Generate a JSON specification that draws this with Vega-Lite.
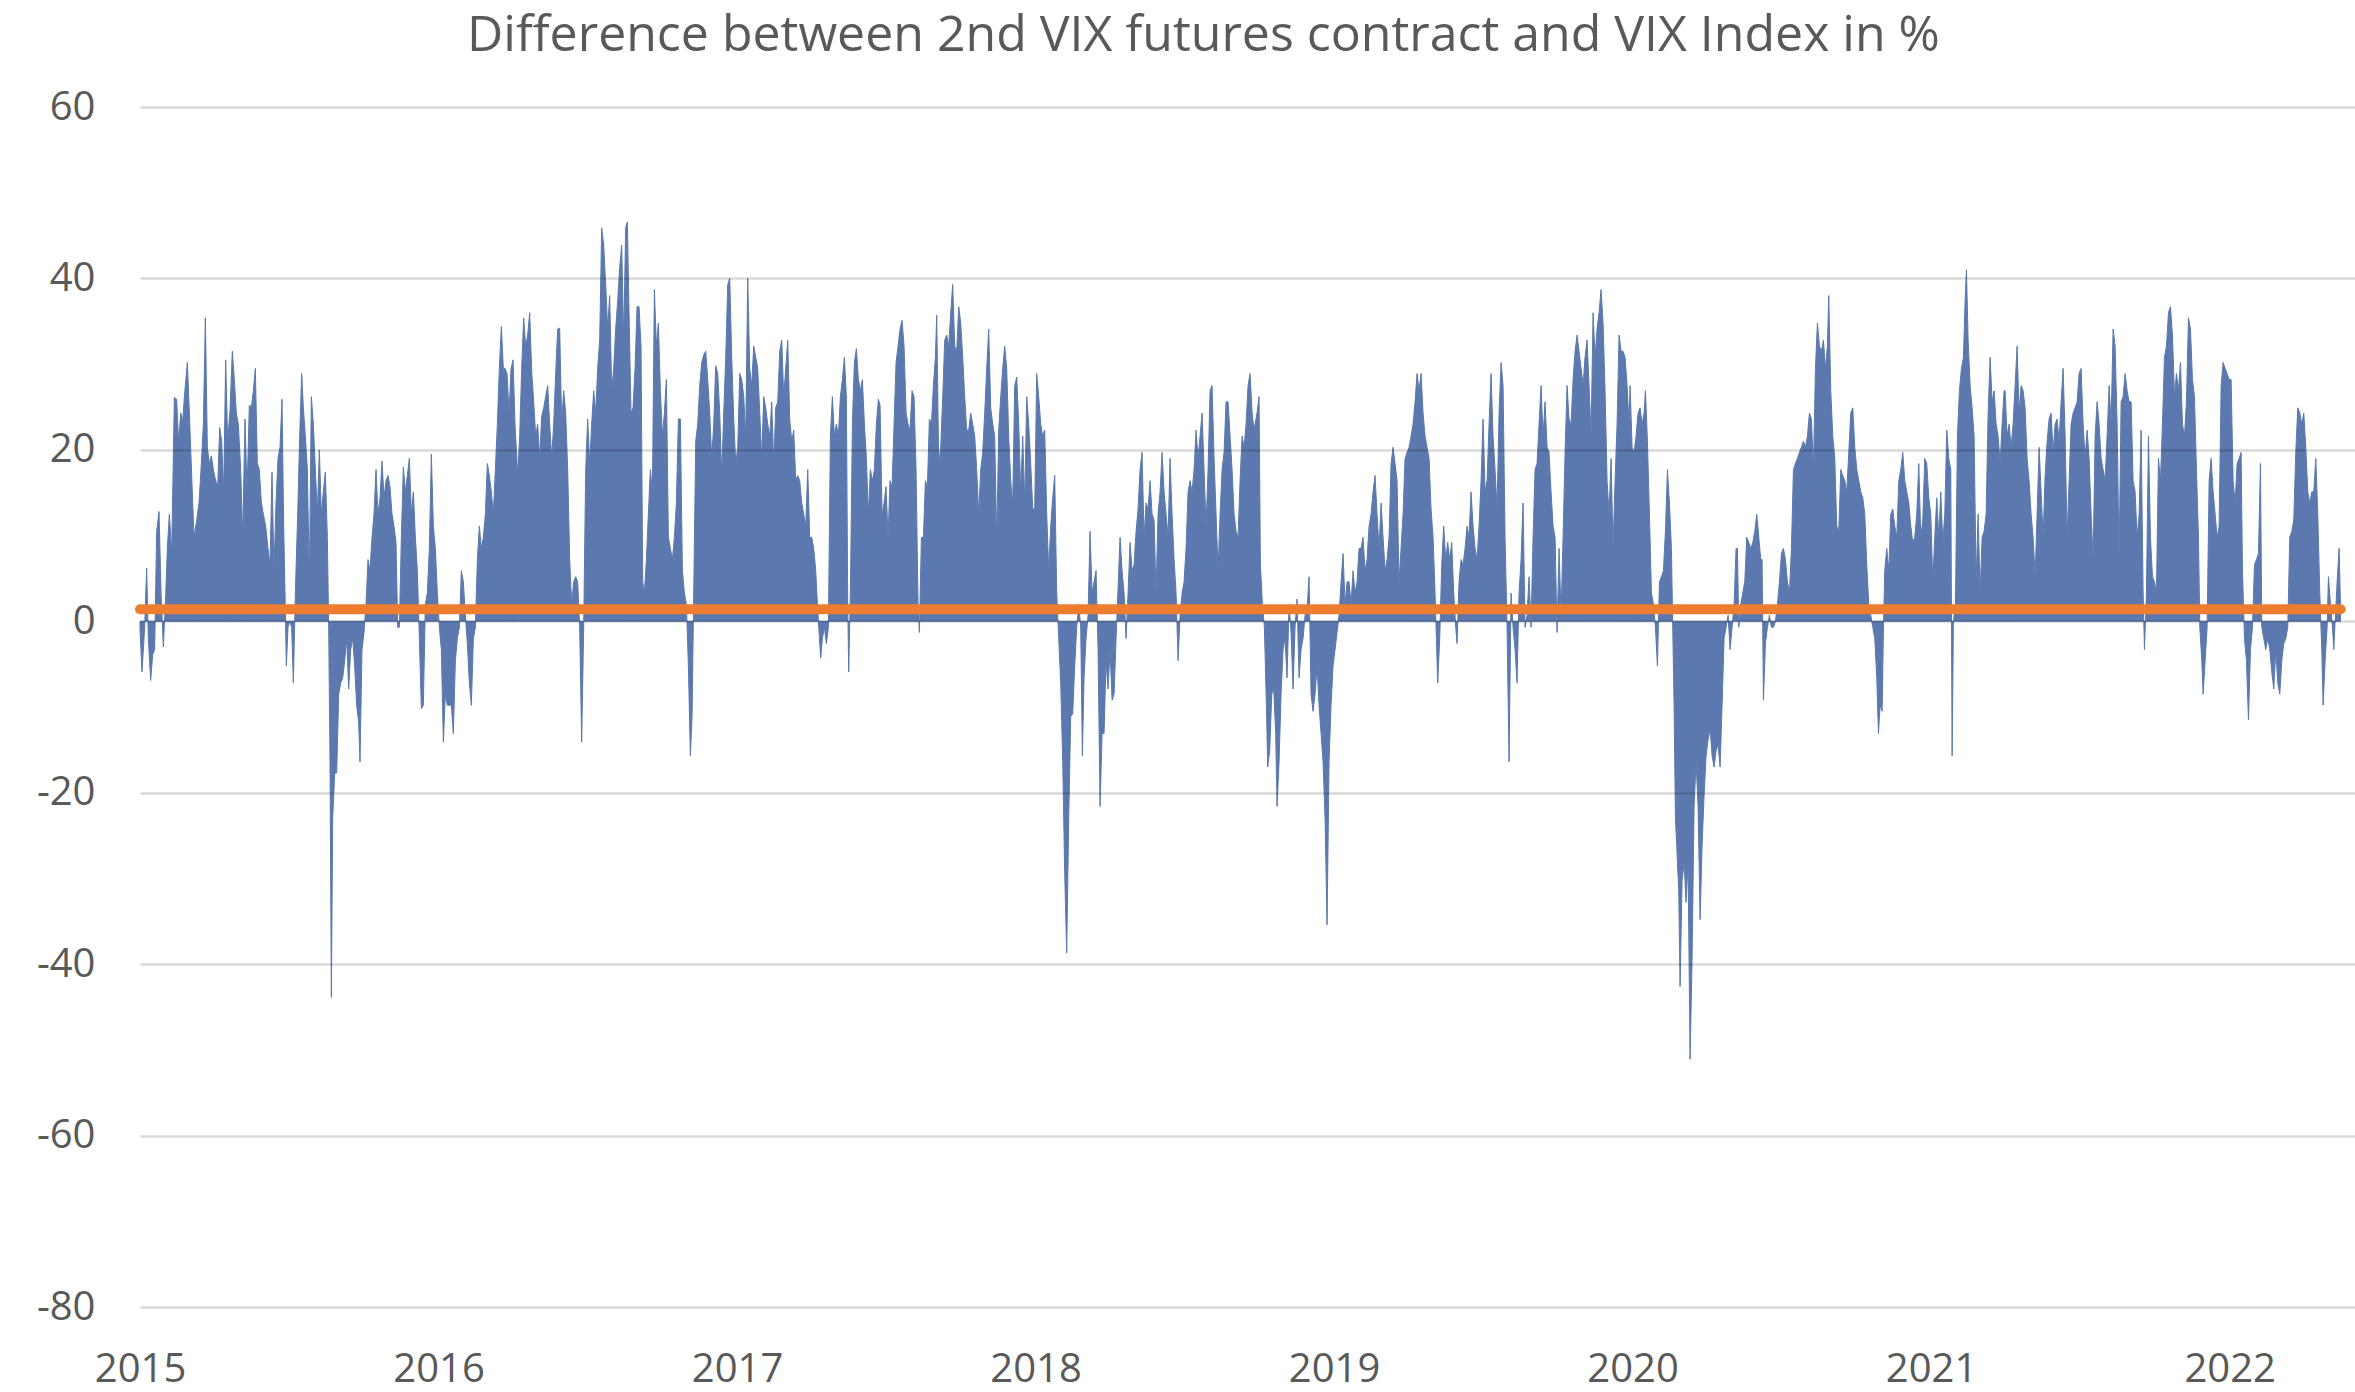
{
"$schema": "https://vega.github.io/schema/vega-lite/v6.json",
"width": 2215,
"height": 1200,
"autosize": {"type": "none"},
"padding": {"left": 140, "top": 107, "right": 0, "bottom": 85},
"background": "#ffffff",
"title": {"text": "Difference between 2nd VIX futures contract and VIX Index in %", "font": "Open Sans", "fontSize": 50, "fontWeight": "normal", "color": "#595959", "anchor": "middle", "frame": "group", "offset": -14, "baseline": "alphabetic", "dx": -44},
"config": {"view": {"stroke": null}, "axis": {"labelFont": "Open Sans", "labelColor": "#595959", "labelFontSize": 40, "domain": false, "ticks": false, "title": null}},
"datasets": {
"ref": [{"t": 2015.0, "v": 1.4}, {"t": 2022.372, "v": 1.4}],
"diff": [
{"t":2015.0000,"v":-1},{"t":2015.0067,"v":-5.9},{"t":2015.0156,"v":-0.7},{"t":2015.0223,"v":6.2},{"t":2015.0279,"v":-2},{"t":2015.0357,"v":-6.9},{"t":2015.0424,"v":-3.9},{"t":2015.0491,"v":-3.3},{"t":2015.0558,"v":10.5},{"t":2015.0637,"v":12.8},{"t":2015.0704,"v":3.3},{"t":2015.0782,"v":-3},{"t":2015.0860,"v":3},{"t":2015.0916,"v":8.5},{"t":2015.0983,"v":12.5},{"t":2015.1061,"v":7.9},{"t":2015.1150,"v":26.1},{"t":2015.1228,"v":25.9},{"t":2015.1295,"v":20.7},{"t":2015.1362,"v":24.3},{"t":2015.1429,"v":23.3},{"t":2015.1496,"v":26.6},{"t":2015.1586,"v":30.2},{"t":2015.1653,"v":24.3},{"t":2015.1731,"v":17},{"t":2015.1809,"v":9.8},{"t":2015.1898,"v":11.8},{"t":2015.1977,"v":13.8},{"t":2015.2055,"v":18.4},{"t":2015.2122,"v":23},{"t":2015.2189,"v":35.4},{"t":2015.2256,"v":20.3},{"t":2015.2323,"v":18.4},{"t":2015.2390,"v":19.3},{"t":2015.2457,"v":17.7},{"t":2015.2535,"v":16.4},{"t":2015.2602,"v":15.7},{"t":2015.2669,"v":22.6},{"t":2015.2736,"v":21},{"t":2015.2803,"v":15.1},{"t":2015.2870,"v":30.5},{"t":2015.2937,"v":21},{"t":2015.3015,"v":24.6},{"t":2015.3093,"v":31.5},{"t":2015.3160,"v":28.2},{"t":2015.3227,"v":24.3},{"t":2015.3294,"v":23},{"t":2015.3373,"v":17.7},{"t":2015.3440,"v":9.8},{"t":2015.3518,"v":23.6},{"t":2015.3585,"v":15.1},{"t":2015.3663,"v":25.2},{"t":2015.3730,"v":24.9},{"t":2015.3797,"v":26.9},{"t":2015.3864,"v":29.5},{"t":2015.3931,"v":18.4},{"t":2015.3998,"v":17.7},{"t":2015.4065,"v":13.8},{"t":2015.4132,"v":12.5},{"t":2015.4210,"v":11.1},{"t":2015.4288,"v":8.5},{"t":2015.4355,"v":6.6},{"t":2015.4422,"v":17.4},{"t":2015.4489,"v":5.9},{"t":2015.4556,"v":13.8},{"t":2015.4623,"v":19},{"t":2015.4690,"v":20.3},{"t":2015.4757,"v":25.9},{"t":2015.4813,"v":11.1},{"t":2015.4858,"v":3.3},{"t":2015.4902,"v":-5.2},{"t":2015.4958,"v":-0.7},{"t":2015.5014,"v":0},{"t":2015.5081,"v":-0.7},{"t":2015.5137,"v":-7.2},{"t":2015.5204,"v":3.3},{"t":2015.5282,"v":12.5},{"t":2015.5349,"v":21.6},{"t":2015.5416,"v":28.9},{"t":2015.5472,"v":24.9},{"t":2015.5539,"v":21.6},{"t":2015.5606,"v":17.7},{"t":2015.5673,"v":4.6},{"t":2015.5740,"v":26.2},{"t":2015.5807,"v":23},{"t":2015.5874,"v":17.7},{"t":2015.5941,"v":12.5},{"t":2015.6008,"v":20},{"t":2015.6075,"v":12.5},{"t":2015.6142,"v":15.1},{"t":2015.6209,"v":17.4},{"t":2015.6276,"v":9.8},{"t":2015.6321,"v":-0.7},{"t":2015.6365,"v":-16.4},{"t":2015.6410,"v":-43.9},{"t":2015.6455,"v":-23},{"t":2015.6522,"v":-17.7},{"t":2015.6589,"v":-17.7},{"t":2015.6656,"v":-8.5},{"t":2015.6723,"v":-7.2},{"t":2015.6790,"v":-6.6},{"t":2015.6857,"v":-4.6},{"t":2015.6924,"v":-2},{"t":2015.6991,"v":-7.9},{"t":2015.7058,"v":-3.3},{"t":2015.7125,"v":-2},{"t":2015.7191,"v":-5.2},{"t":2015.7258,"v":-9.8},{"t":2015.7325,"v":-11.8},{"t":2015.7370,"v":-16.4},{"t":2015.7437,"v":-3.3},{"t":2015.7504,"v":-1.3},{"t":2015.7571,"v":2},{"t":2015.7638,"v":7.2},{"t":2015.7705,"v":5.9},{"t":2015.7772,"v":9.8},{"t":2015.7839,"v":12.5},{"t":2015.7906,"v":17.7},{"t":2015.7973,"v":12.5},{"t":2015.8040,"v":14.4},{"t":2015.8107,"v":18.7},{"t":2015.8174,"v":14.4},{"t":2015.8241,"v":16.4},{"t":2015.8308,"v":17},{"t":2015.8375,"v":15.7},{"t":2015.8442,"v":12.5},{"t":2015.8509,"v":11.1},{"t":2015.8576,"v":9.2},{"t":2015.8632,"v":-0.7},{"t":2015.8688,"v":-0.7},{"t":2015.8755,"v":9.8},{"t":2015.8822,"v":18},{"t":2015.8889,"v":15.1},{"t":2015.8956,"v":17},{"t":2015.9023,"v":19},{"t":2015.9090,"v":12.5},{"t":2015.9157,"v":15.1},{"t":2015.9224,"v":9.8},{"t":2015.9291,"v":5.9},{"t":2015.9358,"v":-2},{"t":2015.9425,"v":-10.2},{"t":2015.9492,"v":-9.8},{"t":2015.9559,"v":2},{"t":2015.9626,"v":3.3},{"t":2015.9693,"v":8.5},{"t":2015.9760,"v":19.5},{"t":2015.9827,"v":11.1},{"t":2015.9894,"v":8.5},{"t":2015.9961,"v":3.3},{"t":2016.0028,"v":-0.7},{"t":2016.0095,"v":-3.3},{"t":2016.0162,"v":-14.1},{"t":2016.0229,"v":-8.5},{"t":2016.0296,"v":-9.8},{"t":2016.0363,"v":-9.8},{"t":2016.0430,"v":-9.8},{"t":2016.0497,"v":-13.1},{"t":2016.0564,"v":-4.6},{"t":2016.0631,"v":-2},{"t":2016.0698,"v":-0.7},{"t":2016.0765,"v":5.9},{"t":2016.0832,"v":4.6},{"t":2016.0899,"v":0.7},{"t":2016.0966,"v":-2.6},{"t":2016.1033,"v":-7.2},{"t":2016.1100,"v":-9.8},{"t":2016.1167,"v":-2},{"t":2016.1234,"v":-0.7},{"t":2016.1301,"v":7.2},{"t":2016.1368,"v":11.1},{"t":2016.1435,"v":8.5},{"t":2016.1502,"v":9.8},{"t":2016.1569,"v":12.5},{"t":2016.1636,"v":18.4},{"t":2016.1703,"v":17},{"t":2016.1770,"v":15.1},{"t":2016.1837,"v":12.5},{"t":2016.1904,"v":17.7},{"t":2016.1971,"v":23},{"t":2016.2038,"v":29.5},{"t":2016.2105,"v":34.4},{"t":2016.2172,"v":29.5},
{"t":2016.2228,"v":29.5},{"t":2016.2295,"v":28.9},{"t":2016.2362,"v":24.3},{"t":2016.2429,"v":29.5},{"t":2016.2496,"v":30.5},{"t":2016.2563,"v":23},{"t":2016.2652,"v":17},{"t":2016.2719,"v":21.6},{"t":2016.2786,"v":29.5},{"t":2016.2853,"v":35.4},{"t":2016.2920,"v":32.1},{"t":2016.2987,"v":33.4},{"t":2016.3054,"v":36},{"t":2016.3121,"v":29.2},{"t":2016.3188,"v":25.6},{"t":2016.3255,"v":21.6},{"t":2016.3322,"v":23},{"t":2016.3389,"v":19},{"t":2016.3456,"v":23.9},{"t":2016.3523,"v":24.9},{"t":2016.3590,"v":26.2},{"t":2016.3657,"v":27.5},{"t":2016.3724,"v":23},{"t":2016.3791,"v":19},{"t":2016.3858,"v":23},{"t":2016.3925,"v":28.9},{"t":2016.3992,"v":34.1},{"t":2016.4059,"v":34.2},{"t":2016.4126,"v":23},{"t":2016.4193,"v":26.9},{"t":2016.4260,"v":24.3},{"t":2016.4327,"v":17.7},{"t":2016.4394,"v":7.2},{"t":2016.4461,"v":2},{"t":2016.4528,"v":4.6},{"t":2016.4595,"v":5.2},{"t":2016.4662,"v":4.6},{"t":2016.4729,"v":-0.7},{"t":2016.4796,"v":-14.1},{"t":2016.4863,"v":-0.7},{"t":2016.4930,"v":17.7},{"t":2016.4997,"v":23.6},{"t":2016.5064,"v":18.4},{"t":2016.5131,"v":23},{"t":2016.5198,"v":26.9},{"t":2016.5265,"v":24.3},{"t":2016.5332,"v":29.5},{"t":2016.5399,"v":32.8},{"t":2016.5466,"v":45.9},{"t":2016.5533,"v":43.9},{"t":2016.5600,"v":39.3},{"t":2016.5667,"v":34.1},{"t":2016.5734,"v":38},{"t":2016.5801,"v":26.9},{"t":2016.5868,"v":29.5},{"t":2016.5935,"v":34.1},{"t":2016.6002,"v":37.4},{"t":2016.6069,"v":41.3},{"t":2016.6136,"v":43.9},{"t":2016.6203,"v":32.8},{"t":2016.6270,"v":45.9},{"t":2016.6326,"v":46.6},{"t":2016.6382,"v":36},{"t":2016.6449,"v":24.3},{"t":2016.6516,"v":24.9},{"t":2016.6583,"v":29.5},{"t":2016.6650,"v":36.7},{"t":2016.6717,"v":36.7},{"t":2016.6784,"v":32.1},{"t":2016.6840,"v":4.6},{"t":2016.6896,"v":3.3},{"t":2016.6963,"v":7.2},{"t":2016.7030,"v":12.5},{"t":2016.7097,"v":17.7},{"t":2016.7164,"v":15.1},{"t":2016.7231,"v":38.7},{"t":2016.7298,"v":32.1},{"t":2016.7365,"v":34.8},{"t":2016.7432,"v":26.9},{"t":2016.7499,"v":21.6},{"t":2016.7566,"v":24.3},{"t":2016.7633,"v":28.2},{"t":2016.7700,"v":9.8},{"t":2016.7767,"v":8.5},{"t":2016.7834,"v":7.2},{"t":2016.7901,"v":9.8},{"t":2016.7968,"v":13.8},{"t":2016.8035,"v":23.6},{"t":2016.8102,"v":23.6},{"t":2016.8169,"v":5.9},{"t":2016.8236,"v":3.3},{"t":2016.8303,"v":2},{"t":2016.8370,"v":-5.2},{"t":2016.8437,"v":-15.7},{"t":2016.8493,"v":-11.1},{"t":2016.8549,"v":3.3},{"t":2016.8616,"v":21},{"t":2016.8683,"v":23},{"t":2016.8750,"v":27.5},{"t":2016.8817,"v":30.2},{"t":2016.8884,"v":31.1},{"t":2016.8951,"v":31.5},{"t":2016.9018,"v":28.2},{"t":2016.9085,"v":24.3},{"t":2016.9152,"v":19},{"t":2016.9219,"v":23},{"t":2016.9286,"v":29.8},{"t":2016.9353,"v":28.9},{"t":2016.9420,"v":24.3},{"t":2016.9487,"v":17},{"t":2016.9554,"v":24.3},{"t":2016.9621,"v":30.8},{"t":2016.9688,"v":39.3},{"t":2016.9755,"v":40},{"t":2016.9822,"v":30.8},{"t":2016.9889,"v":23.6},{"t":2016.9956,"v":18.4},{"t":2017.0023,"v":20.3},{"t":2017.0090,"v":28.9},{"t":2017.0157,"v":28.2},{"t":2017.0224,"v":26.2},{"t":2017.0291,"v":21.6},{"t":2017.0358,"v":40},{"t":2017.0425,"v":29.5},{"t":2017.0492,"v":27.5},{"t":2017.0559,"v":32.1},{"t":2017.0626,"v":30.8},{"t":2017.0693,"v":29.5},{"t":2017.0760,"v":24.3},{"t":2017.0827,"v":19},{"t":2017.0894,"v":26.2},{"t":2017.0961,"v":24.9},{"t":2017.1028,"v":23},{"t":2017.1095,"v":21.6},{"t":2017.1162,"v":25.6},{"t":2017.1229,"v":18.4},{"t":2017.1296,"v":24.9},{"t":2017.1363,"v":25.6},{"t":2017.1430,"v":31.5},{"t":2017.1497,"v":32.8},{"t":2017.1564,"v":26.2},{"t":2017.1631,"v":29.5},{"t":2017.1698,"v":32.8},{"t":2017.1765,"v":23.6},{"t":2017.1832,"v":21},{"t":2017.1899,"v":22.3},{"t":2017.1966,"v":16.4},{"t":2017.2033,"v":17},{"t":2017.2100,"v":16.4},{"t":2017.2167,"v":13.8},{"t":2017.2234,"v":12.5},{"t":2017.2301,"v":11.1},{"t":2017.2368,"v":17.7},{"t":2017.2435,"v":9.8},{"t":2017.2502,"v":9.8},{"t":2017.2569,"v":8.5},{"t":2017.2636,"v":5.9},{"t":2017.2692,"v":2},{"t":2017.2748,"v":-1.3},{"t":2017.2803,"v":-4.3},{"t":2017.2859,"v":-2},{"t":2017.2926,"v":-0.7},{"t":2017.2993,"v":-2.6},{"t":2017.3060,"v":-0.7},{"t":2017.3127,"v":21.6},{"t":2017.3194,"v":26.2},{"t":2017.3261,"v":21.6},{"t":2017.3328,"v":23},{"t":2017.3395,"v":21.6},{"t":2017.3462,"v":26.2},{"t":2017.3529,"v":28.2},{"t":2017.3596,"v":30.8},{"t":2017.3663,"v":26.2},{"t":2017.3708,"v":2},{"t":2017.3741,"v":-5.9},{"t":2017.3797,"v":3.3},{"t":2017.3864,"v":23},{"t":2017.3931,"v":30.2},{"t":2017.3998,"v":31.8},{"t":2017.4065,"v":28.2},{"t":2017.4132,"v":26.9},{"t":2017.4199,"v":28.2},{"t":2017.4266,"v":23},{"t":2017.4333,"v":19},{"t":2017.4400,"v":12.5},{"t":2017.4467,"v":17.7},{"t":2017.4534,"v":16.4},{"t":2017.4601,"v":17.7},{"t":2017.4668,"v":23},{"t":2017.4735,"v":25.9},
{"t":2017.4791,"v":25.2},{"t":2017.4858,"v":12.5},{"t":2017.4925,"v":13.8},{"t":2017.4992,"v":15.7},{"t":2017.5059,"v":9.8},{"t":2017.5126,"v":16.4},{"t":2017.5193,"v":15.7},{"t":2017.5260,"v":23},{"t":2017.5327,"v":30.2},{"t":2017.5394,"v":32.1},{"t":2017.5461,"v":34.1},{"t":2017.5528,"v":35.1},{"t":2017.5595,"v":32.1},{"t":2017.5662,"v":24.3},{"t":2017.5729,"v":23},{"t":2017.5796,"v":22.3},{"t":2017.5863,"v":26.9},{"t":2017.5930,"v":26.2},{"t":2017.5997,"v":17.7},{"t":2017.6064,"v":2},{"t":2017.6109,"v":-1.3},{"t":2017.6176,"v":9.8},{"t":2017.6243,"v":9.8},{"t":2017.6310,"v":16.4},{"t":2017.6377,"v":15.7},{"t":2017.6444,"v":23.6},{"t":2017.6511,"v":23},{"t":2017.6578,"v":27.5},{"t":2017.6645,"v":30.8},{"t":2017.6689,"v":35.7},{"t":2017.6756,"v":18.4},{"t":2017.6823,"v":20.3},{"t":2017.6890,"v":26.2},{"t":2017.6957,"v":32.8},{"t":2017.7024,"v":33.4},{"t":2017.7091,"v":32.1},{"t":2017.7158,"v":36},{"t":2017.7225,"v":39.3},{"t":2017.7292,"v":32.1},{"t":2017.7359,"v":31.5},{"t":2017.7426,"v":36.7},{"t":2017.7493,"v":34.8},{"t":2017.7560,"v":30.8},{"t":2017.7627,"v":26.2},{"t":2017.7694,"v":22.3},{"t":2017.7761,"v":22.3},{"t":2017.7828,"v":24.3},{"t":2017.7895,"v":23},{"t":2017.7962,"v":21.6},{"t":2017.8029,"v":17.7},{"t":2017.8096,"v":12.5},{"t":2017.8163,"v":17.7},{"t":2017.8230,"v":19.7},{"t":2017.8297,"v":24.3},{"t":2017.8364,"v":29.5},{"t":2017.8431,"v":34.1},{"t":2017.8498,"v":24.9},{"t":2017.8565,"v":23},{"t":2017.8632,"v":21.6},{"t":2017.8699,"v":9.2},{"t":2017.8766,"v":22.3},{"t":2017.8833,"v":26.2},{"t":2017.8900,"v":29.5},{"t":2017.8967,"v":32.1},{"t":2017.9034,"v":29.5},{"t":2017.9101,"v":21.6},{"t":2017.9168,"v":16.4},{"t":2017.9235,"v":13.8},{"t":2017.9302,"v":27.5},{"t":2017.9369,"v":28.5},{"t":2017.9436,"v":23},{"t":2017.9503,"v":15.1},{"t":2017.9570,"v":21.6},{"t":2017.9637,"v":13.8},{"t":2017.9704,"v":26.2},{"t":2017.9771,"v":23},{"t":2017.9838,"v":18.4},{"t":2017.9905,"v":13.1},{"t":2017.9972,"v":13.1},{"t":2018.0039,"v":28.9},{"t":2018.0106,"v":26.2},{"t":2018.0173,"v":23},{"t":2018.0240,"v":21.6},{"t":2018.0307,"v":22.3},{"t":2018.0374,"v":12.5},{"t":2018.0441,"v":5.9},{"t":2018.0508,"v":11.1},{"t":2018.0575,"v":14.4},{"t":2018.0642,"v":17},{"t":2018.0709,"v":3.3},{"t":2018.0776,"v":-2},{"t":2018.0843,"v":-7.2},{"t":2018.0910,"v":-16.4},{"t":2018.0977,"v":-29.5},{"t":2018.1044,"v":-38.7},{"t":2018.1111,"v":-23},{"t":2018.1178,"v":-11.1},{"t":2018.1245,"v":-10.8},{"t":2018.1312,"v":-5.2},{"t":2018.1379,"v":-0.7},{"t":2018.1446,"v":2},{"t":2018.1513,"v":-0.7},{"t":2018.1569,"v":-15.7},{"t":2018.1625,"v":-6.6},{"t":2018.1692,"v":-2},{"t":2018.1759,"v":0.7},{"t":2018.1826,"v":10.5},{"t":2018.1893,"v":3.3},{"t":2018.1960,"v":4.6},{"t":2018.2027,"v":5.9},{"t":2018.2094,"v":-3.3},{"t":2018.2161,"v":-21.6},{"t":2018.2228,"v":-13.1},{"t":2018.2295,"v":-13.1},{"t":2018.2362,"v":-4.6},{"t":2018.2429,"v":-7.9},{"t":2018.2496,"v":-3.3},{"t":2018.2563,"v":-9.2},{"t":2018.2630,"v":-8.5},{"t":2018.2697,"v":-2},{"t":2018.2764,"v":3.9},{"t":2018.2831,"v":9.8},{"t":2018.2898,"v":5.9},{"t":2018.2965,"v":3.3},{"t":2018.3032,"v":-2},{"t":2018.3099,"v":3.3},{"t":2018.3166,"v":9.2},{"t":2018.3233,"v":5.9},{"t":2018.3300,"v":6.6},{"t":2018.3367,"v":10.5},{"t":2018.3434,"v":13.1},{"t":2018.3501,"v":17.7},{"t":2018.3568,"v":19.7},{"t":2018.3635,"v":9.8},{"t":2018.3702,"v":13.8},{"t":2018.3769,"v":13.1},{"t":2018.3836,"v":16.4},{"t":2018.3903,"v":12.5},{"t":2018.3970,"v":11.8},{"t":2018.4037,"v":3.3},{"t":2018.4104,"v":12.5},{"t":2018.4171,"v":15.1},{"t":2018.4238,"v":19.7},{"t":2018.4305,"v":15.1},{"t":2018.4372,"v":12.5},{"t":2018.4439,"v":9.8},{"t":2018.4506,"v":19},{"t":2018.4573,"v":12.5},{"t":2018.4640,"v":7.2},{"t":2018.4707,"v":3.3},{"t":2018.4774,"v":-4.6},{"t":2018.4841,"v":0.7},{"t":2018.4908,"v":3.3},{"t":2018.4975,"v":4.6},{"t":2018.5042,"v":8.5},{"t":2018.5109,"v":15.1},{"t":2018.5176,"v":16.4},{"t":2018.5243,"v":15.1},{"t":2018.5310,"v":17.7},{"t":2018.5377,"v":22.3},{"t":2018.5444,"v":19},{"t":2018.5511,"v":21.6},{"t":2018.5578,"v":24.3},{"t":2018.5645,"v":17.7},{"t":2018.5712,"v":11.1},{"t":2018.5779,"v":17.7},{"t":2018.5846,"v":26.9},{"t":2018.5913,"v":27.5},{"t":2018.5980,"v":19},{"t":2018.6047,"v":12.5},{"t":2018.6114,"v":5.9},{"t":2018.6181,"v":12.5},{"t":2018.6248,"v":17.7},{"t":2018.6315,"v":19.7},{"t":2018.6382,"v":25.6},{"t":2018.6449,"v":25.6},{"t":2018.6516,"v":21.6},{"t":2018.6583,"v":17.7},{"t":2018.6650,"v":12.5},{"t":2018.6717,"v":10.5},{"t":2018.6784,"v":9.8},{"t":2018.6851,"v":16.4},{"t":2018.6918,"v":21.6},{"t":2018.6985,"v":20.3},{"t":2018.7052,"v":23},{"t":2018.7119,"v":27.5},{"t":2018.7186,"v":28.9},{"t":2018.7253,"v":24.3},{"t":2018.7320,"v":22.3},
{"t":2018.7353,"v":23},{"t":2018.7420,"v":24.3},{"t":2018.7487,"v":26.2},{"t":2018.7532,"v":6.6},{"t":2018.7599,"v":2},{"t":2018.7666,"v":-0.7},{"t":2018.7733,"v":-9.8},{"t":2018.7777,"v":-17},{"t":2018.7844,"v":-15.1},{"t":2018.7911,"v":-8.5},{"t":2018.7978,"v":-7.9},{"t":2018.8045,"v":-13.1},{"t":2018.8090,"v":-21.6},{"t":2018.8157,"v":-16.4},{"t":2018.8224,"v":-8.5},{"t":2018.8291,"v":-3.3},{"t":2018.8358,"v":-2},{"t":2018.8425,"v":-6.6},{"t":2018.8492,"v":2},{"t":2018.8559,"v":-1.3},{"t":2018.8626,"v":-7.9},{"t":2018.8693,"v":-0.7},{"t":2018.8760,"v":2.6},{"t":2018.8827,"v":-6.6},{"t":2018.8894,"v":-3.3},{"t":2018.8961,"v":-2},{"t":2018.9028,"v":0.7},{"t":2018.9095,"v":1.3},{"t":2018.9162,"v":5.2},{"t":2018.9229,"v":-8.5},{"t":2018.9296,"v":-10.5},{"t":2018.9363,"v":-8.5},{"t":2018.9430,"v":-5.2},{"t":2018.9497,"v":-9.8},{"t":2018.9564,"v":-13.1},{"t":2018.9631,"v":-16.4},{"t":2018.9698,"v":-23},{"t":2018.9765,"v":-35.4},{"t":2018.9832,"v":-16.4},{"t":2018.9899,"v":-9.8},{"t":2018.9966,"v":-5.2},{"t":2019.0033,"v":-3.3},{"t":2019.0100,"v":-1.3},{"t":2019.0167,"v":0.7},{"t":2019.0234,"v":4.6},{"t":2019.0301,"v":7.9},{"t":2019.0368,"v":2},{"t":2019.0435,"v":4.6},{"t":2019.0502,"v":4.6},{"t":2019.0569,"v":2},{"t":2019.0636,"v":5.9},{"t":2019.0703,"v":3.3},{"t":2019.0770,"v":4.6},{"t":2019.0837,"v":8.5},{"t":2019.0904,"v":8.5},{"t":2019.0971,"v":9.8},{"t":2019.1038,"v":5.9},{"t":2019.1105,"v":7.2},{"t":2019.1172,"v":11.1},{"t":2019.1239,"v":12.5},{"t":2019.1306,"v":15.1},{"t":2019.1373,"v":17},{"t":2019.1440,"v":12.5},{"t":2019.1507,"v":8.5},{"t":2019.1574,"v":13.8},{"t":2019.1641,"v":9.8},{"t":2019.1708,"v":5.9},{"t":2019.1775,"v":7.2},{"t":2019.1842,"v":9.8},{"t":2019.1909,"v":18.4},{"t":2019.1976,"v":20.3},{"t":2019.2043,"v":18.4},{"t":2019.2110,"v":16.4},{"t":2019.2177,"v":4.6},{"t":2019.2244,"v":8.5},{"t":2019.2311,"v":12.5},{"t":2019.2378,"v":19},{"t":2019.2445,"v":19.7},{"t":2019.2512,"v":20.3},{"t":2019.2579,"v":21.6},{"t":2019.2646,"v":23},{"t":2019.2713,"v":25.6},{"t":2019.2780,"v":28.9},{"t":2019.2847,"v":26.9},{"t":2019.2914,"v":28.9},{"t":2019.2981,"v":24.3},{"t":2019.3048,"v":21.6},{"t":2019.3115,"v":20.3},{"t":2019.3182,"v":19},{"t":2019.3249,"v":13.1},{"t":2019.3316,"v":9.8},{"t":2019.3383,"v":3.3},{"t":2019.3428,"v":-2},{"t":2019.3472,"v":-7.2},{"t":2019.3539,"v":-2},{"t":2019.3606,"v":6.6},{"t":2019.3673,"v":11.1},{"t":2019.3740,"v":7.2},{"t":2019.3807,"v":9.2},{"t":2019.3874,"v":7.2},{"t":2019.3941,"v":9.2},{"t":2019.4008,"v":3.3},{"t":2019.4075,"v":-0.7},{"t":2019.4120,"v":-2.6},{"t":2019.4187,"v":4.6},{"t":2019.4254,"v":7.2},{"t":2019.4321,"v":6.6},{"t":2019.4388,"v":8.5},{"t":2019.4455,"v":11.1},{"t":2019.4522,"v":9.8},{"t":2019.4589,"v":15.1},{"t":2019.4656,"v":11.1},{"t":2019.4723,"v":8.5},{"t":2019.4790,"v":7.2},{"t":2019.4857,"v":11.1},{"t":2019.4924,"v":16.4},{"t":2019.4991,"v":23.6},{"t":2019.5058,"v":15.1},{"t":2019.5125,"v":16.4},{"t":2019.5192,"v":23},{"t":2019.5259,"v":28.9},{"t":2019.5326,"v":21.6},{"t":2019.5393,"v":17.7},{"t":2019.5460,"v":13.1},{"t":2019.5527,"v":24.3},{"t":2019.5594,"v":30.2},{"t":2019.5661,"v":27.5},{"t":2019.5728,"v":9.8},{"t":2019.5795,"v":-0.7},{"t":2019.5862,"v":-16.4},{"t":2019.5929,"v":3.3},{"t":2019.5996,"v":-0.7},{"t":2019.6063,"v":-3.3},{"t":2019.6130,"v":-7.2},{"t":2019.6197,"v":3.3},{"t":2019.6264,"v":7.2},{"t":2019.6331,"v":13.8},{"t":2019.6398,"v":-0.7},{"t":2019.6465,"v":0.7},{"t":2019.6532,"v":5.2},{"t":2019.6599,"v":-0.7},{"t":2019.6666,"v":9.8},{"t":2019.6733,"v":17.7},{"t":2019.6800,"v":18.4},{"t":2019.6867,"v":23},{"t":2019.6934,"v":27.5},{"t":2019.7001,"v":21.6},{"t":2019.7068,"v":25.6},{"t":2019.7135,"v":20.3},{"t":2019.7202,"v":19.7},{"t":2019.7269,"v":15.1},{"t":2019.7336,"v":11.1},{"t":2019.7403,"v":9.8},{"t":2019.7470,"v":-1.3},{"t":2019.7537,"v":8.5},{"t":2019.7604,"v":0.7},{"t":2019.7671,"v":9.8},{"t":2019.7738,"v":19.7},{"t":2019.7805,"v":27.5},{"t":2019.7872,"v":23.6},{"t":2019.7939,"v":23},{"t":2019.8006,"v":28.2},{"t":2019.8073,"v":31.5},{"t":2019.8140,"v":33.4},{"t":2019.8207,"v":31.5},{"t":2019.8274,"v":29.5},{"t":2019.8341,"v":27.5},{"t":2019.8408,"v":30.8},{"t":2019.8475,"v":32.8},{"t":2019.8542,"v":27.5},{"t":2019.8609,"v":21.6},{"t":2019.8676,"v":36},{"t":2019.8743,"v":30.8},{"t":2019.8810,"v":34.1},{"t":2019.8877,"v":36},{"t":2019.8944,"v":38.7},{"t":2019.9011,"v":34.8},{"t":2019.9078,"v":26.9},{"t":2019.9145,"v":16.4},{"t":2019.9212,"v":12.5},{"t":2019.9279,"v":19},{"t":2019.9346,"v":8.5},{"t":2019.9413,"v":16.4},{"t":2019.9480,"v":23},{"t":2019.9547,"v":33.4},{"t":2019.9614,"v":31.5},{"t":2019.9681,"v":31.5},{"t":2019.9748,"v":30.8},{"t":2019.9815,"v":27.5},{"t":2019.9882,"v":23},
{"t":2019.9916,"v":27.5},{"t":2019.9983,"v":20.3},{"t":2020.0050,"v":19.7},{"t":2020.0117,"v":21.6},{"t":2020.0184,"v":24.3},{"t":2020.0251,"v":24.9},{"t":2020.0318,"v":23},{"t":2020.0385,"v":24.3},{"t":2020.0430,"v":26.9},{"t":2020.0497,"v":21},{"t":2020.0564,"v":12.5},{"t":2020.0631,"v":3.3},{"t":2020.0698,"v":2},{"t":2020.0765,"v":-0.7},{"t":2020.0832,"v":-5.2},{"t":2020.0899,"v":4.6},{"t":2020.0966,"v":5.2},{"t":2020.1033,"v":5.9},{"t":2020.1100,"v":10.5},{"t":2020.1167,"v":17.7},{"t":2020.1234,"v":13.8},{"t":2020.1301,"v":8.5},{"t":2020.1345,"v":-0.7},{"t":2020.1390,"v":-9.8},{"t":2020.1435,"v":-23},{"t":2020.1479,"v":-26.2},{"t":2020.1546,"v":-31.5},{"t":2020.1591,"v":-42.6},{"t":2020.1658,"v":-30.2},{"t":2020.1725,"v":-28.2},{"t":2020.1792,"v":-32.8},{"t":2020.1859,"v":-28.2},{"t":2020.1926,"v":-51.1},{"t":2020.1993,"v":-39.3},{"t":2020.2060,"v":-21.6},{"t":2020.2127,"v":-16.4},{"t":2020.2194,"v":-21.6},{"t":2020.2261,"v":-34.8},{"t":2020.2328,"v":-26.2},{"t":2020.2395,"v":-20.3},{"t":2020.2462,"v":-15.7},{"t":2020.2529,"v":-13.8},{"t":2020.2596,"v":-12.5},{"t":2020.2663,"v":-15.7},{"t":2020.2730,"v":-17},{"t":2020.2797,"v":-15.1},{"t":2020.2864,"v":-14.4},{"t":2020.2931,"v":-17},{"t":2020.2998,"v":-9.8},{"t":2020.3065,"v":-2},{"t":2020.3132,"v":-0.7},{"t":2020.3199,"v":0.7},{"t":2020.3266,"v":-3.3},{"t":2020.3333,"v":-0.7},{"t":2020.3400,"v":2},{"t":2020.3467,"v":8.5},{"t":2020.3512,"v":8.5},{"t":2020.3557,"v":-0.7},{"t":2020.3624,"v":2},{"t":2020.3691,"v":3.3},{"t":2020.3758,"v":4.6},{"t":2020.3825,"v":9.8},{"t":2020.3892,"v":9.2},{"t":2020.3959,"v":8.5},{"t":2020.4026,"v":9.2},{"t":2020.4093,"v":10.5},{"t":2020.4160,"v":12.5},{"t":2020.4227,"v":9.8},{"t":2020.4294,"v":7.2},{"t":2020.4338,"v":7.2},{"t":2020.4383,"v":-9.2},{"t":2020.4450,"v":-2.6},{"t":2020.4517,"v":-0.7},{"t":2020.4584,"v":0.7},{"t":2020.4651,"v":-0.7},{"t":2020.4718,"v":-0.7},{"t":2020.4785,"v":0},{"t":2020.4852,"v":2},{"t":2020.4919,"v":4.6},{"t":2020.4986,"v":7.9},{"t":2020.5053,"v":8.5},{"t":2020.5120,"v":7.2},{"t":2020.5187,"v":4.6},{"t":2020.5254,"v":3.3},{"t":2020.5321,"v":8.5},{"t":2020.5388,"v":17.7},{"t":2020.5455,"v":18.4},{"t":2020.5522,"v":19},{"t":2020.5589,"v":19.7},{"t":2020.5656,"v":20.3},{"t":2020.5723,"v":21},{"t":2020.5790,"v":20.3},{"t":2020.5857,"v":21.6},{"t":2020.5924,"v":24.3},{"t":2020.5991,"v":23.6},{"t":2020.6058,"v":17.7},{"t":2020.6125,"v":29.5},{"t":2020.6192,"v":34.8},{"t":2020.6259,"v":32.1},{"t":2020.6326,"v":31.5},{"t":2020.6393,"v":32.8},{"t":2020.6460,"v":29.5},{"t":2020.6527,"v":32.1},{"t":2020.6572,"v":38},{"t":2020.6639,"v":26.9},{"t":2020.6706,"v":21.6},{"t":2020.6773,"v":19},{"t":2020.6840,"v":11.1},{"t":2020.6907,"v":10.5},{"t":2020.6974,"v":17.7},{"t":2020.7041,"v":17},{"t":2020.7108,"v":16.4},{"t":2020.7175,"v":15.1},{"t":2020.7242,"v":19.7},{"t":2020.7309,"v":24.3},{"t":2020.7376,"v":24.9},{"t":2020.7443,"v":20.3},{"t":2020.7510,"v":17.7},{"t":2020.7577,"v":16.4},{"t":2020.7644,"v":15.1},{"t":2020.7711,"v":14.4},{"t":2020.7778,"v":12.5},{"t":2020.7845,"v":6.6},{"t":2020.7912,"v":2},{"t":2020.7979,"v":0.7},{"t":2020.8046,"v":-0.7},{"t":2020.8113,"v":-2},{"t":2020.8180,"v":-6.6},{"t":2020.8236,"v":-13.1},{"t":2020.8292,"v":-9.8},{"t":2020.8359,"v":-10.5},{"t":2020.8404,"v":-0.7},{"t":2020.8448,"v":5.9},{"t":2020.8515,"v":8.5},{"t":2020.8582,"v":5.9},{"t":2020.8649,"v":12.5},{"t":2020.8716,"v":13.1},{"t":2020.8783,"v":11.1},{"t":2020.8850,"v":9.8},{"t":2020.8917,"v":16.4},{"t":2020.8984,"v":17.7},{"t":2020.9051,"v":19.7},{"t":2020.9118,"v":16.4},{"t":2020.9185,"v":15.1},{"t":2020.9252,"v":13.8},{"t":2020.9319,"v":11.1},{"t":2020.9386,"v":9.2},{"t":2020.9453,"v":9.8},{"t":2020.9520,"v":12.5},{"t":2020.9587,"v":18.4},{"t":2020.9654,"v":9.8},{"t":2020.9721,"v":11.8},{"t":2020.9788,"v":19},{"t":2020.9855,"v":18.4},{"t":2020.9922,"v":14.4},{"t":2020.9989,"v":12.5},{"t":2021.0056,"v":4.6},{"t":2021.0123,"v":9.8},{"t":2021.0190,"v":14.4},{"t":2021.0257,"v":9.8},{"t":2021.0324,"v":15.1},{"t":2021.0391,"v":9.2},{"t":2021.0458,"v":12.5},{"t":2021.0525,"v":22.3},{"t":2021.0592,"v":19},{"t":2021.0659,"v":17.7},{"t":2021.0704,"v":-15.7},{"t":2021.0748,"v":0},{"t":2021.0815,"v":2},{"t":2021.0882,"v":21.6},{"t":2021.0949,"v":26.9},{"t":2021.1016,"v":29.5},{"t":2021.1083,"v":30.8},{"t":2021.1139,"v":37.4},{"t":2021.1184,"v":41},{"t":2021.1240,"v":32.8},{"t":2021.1307,"v":27.5},{"t":2021.1374,"v":24.9},{"t":2021.1441,"v":21.6},{"t":2021.1508,"v":4.6},{"t":2021.1575,"v":12.5},{"t":2021.1642,"v":3.3},{"t":2021.1709,"v":9.8},{"t":2021.1776,"v":10.5},{"t":2021.1843,"v":12.5},{"t":2021.1910,"v":24.3},{"t":2021.1977,"v":30.8},{"t":2021.2044,"v":25.6},{"t":2021.2111,"v":26.9},{"t":2021.2178,"v":23},{"t":2021.2245,"v":21.6},{"t":2021.2312,"v":18.4},{"t":2021.2379,"v":23},{"t":2021.2446,"v":26.9},
{"t":2021.2479,"v":26.9},{"t":2021.2546,"v":21.6},{"t":2021.2613,"v":23},{"t":2021.2680,"v":20.3},{"t":2021.2747,"v":23},{"t":2021.2814,"v":27.5},{"t":2021.2881,"v":32.1},{"t":2021.2948,"v":24.3},{"t":2021.3015,"v":27.5},{"t":2021.3082,"v":26.9},{"t":2021.3149,"v":24.9},{"t":2021.3216,"v":19},{"t":2021.3283,"v":16.4},{"t":2021.3350,"v":12.5},{"t":2021.3417,"v":9.8},{"t":2021.3484,"v":5.2},{"t":2021.3551,"v":12.5},{"t":2021.3618,"v":20.3},{"t":2021.3685,"v":15.1},{"t":2021.3752,"v":9.8},{"t":2021.3819,"v":17},{"t":2021.3886,"v":21},{"t":2021.3953,"v":23.6},{"t":2021.4020,"v":24.3},{"t":2021.4087,"v":19.7},{"t":2021.4154,"v":23},{"t":2021.4221,"v":23.6},{"t":2021.4288,"v":21},{"t":2021.4355,"v":25.6},{"t":2021.4422,"v":29.5},{"t":2021.4489,"v":21.6},{"t":2021.4556,"v":9.8},{"t":2021.4623,"v":16.4},{"t":2021.4690,"v":23},{"t":2021.4757,"v":24.3},{"t":2021.4824,"v":24.9},{"t":2021.4891,"v":25.6},{"t":2021.4958,"v":28.9},{"t":2021.5025,"v":29.5},{"t":2021.5092,"v":23},{"t":2021.5159,"v":19},{"t":2021.5226,"v":22.3},{"t":2021.5293,"v":19},{"t":2021.5360,"v":12.5},{"t":2021.5427,"v":7.2},{"t":2021.5494,"v":21.6},{"t":2021.5561,"v":25.6},{"t":2021.5628,"v":23},{"t":2021.5695,"v":19},{"t":2021.5762,"v":17.7},{"t":2021.5829,"v":16.4},{"t":2021.5896,"v":21.6},{"t":2021.5963,"v":27.5},{"t":2021.6030,"v":23},{"t":2021.6097,"v":34.1},{"t":2021.6164,"v":32.1},{"t":2021.6231,"v":23},{"t":2021.6298,"v":7.2},{"t":2021.6365,"v":25.6},{"t":2021.6432,"v":26.2},{"t":2021.6499,"v":28.9},{"t":2021.6566,"v":26.9},{"t":2021.6633,"v":25.6},{"t":2021.6700,"v":25.6},{"t":2021.6767,"v":16.4},{"t":2021.6834,"v":15.1},{"t":2021.6901,"v":9.8},{"t":2021.6968,"v":12.5},{"t":2021.7035,"v":22.3},{"t":2021.7102,"v":3.3},{"t":2021.7147,"v":-3.3},{"t":2021.7214,"v":3.3},{"t":2021.7281,"v":21.6},{"t":2021.7348,"v":9.8},{"t":2021.7415,"v":5.2},{"t":2021.7482,"v":4.6},{"t":2021.7549,"v":3.3},{"t":2021.7616,"v":19},{"t":2021.7683,"v":16.4},{"t":2021.7750,"v":23},{"t":2021.7817,"v":30.8},{"t":2021.7884,"v":32.1},{"t":2021.7951,"v":36},{"t":2021.8018,"v":36.7},{"t":2021.8085,"v":33.4},{"t":2021.8152,"v":26.2},{"t":2021.8219,"v":28.9},{"t":2021.8286,"v":26.9},{"t":2021.8353,"v":30.2},{"t":2021.8420,"v":23},{"t":2021.8487,"v":21.6},{"t":2021.8554,"v":25.6},{"t":2021.8621,"v":35.4},{"t":2021.8688,"v":34.1},{"t":2021.8755,"v":28.2},{"t":2021.8822,"v":26.2},{"t":2021.8889,"v":17.7},{"t":2021.8956,"v":9.8},{"t":2021.9001,"v":-0.7},{"t":2021.9068,"v":-4.6},{"t":2021.9112,"v":-8.5},{"t":2021.9179,"v":-4.6},{"t":2021.9246,"v":-0.7},{"t":2021.9313,"v":16.4},{"t":2021.9380,"v":19},{"t":2021.9447,"v":15.1},{"t":2021.9514,"v":12.5},{"t":2021.9581,"v":9.8},{"t":2021.9648,"v":11.1},{"t":2021.9715,"v":27.5},{"t":2021.9782,"v":30.2},{"t":2021.9849,"v":29.5},{"t":2021.9916,"v":28.9},{"t":2021.9983,"v":28.2},{"t":2022.0050,"v":28.2},{"t":2022.0117,"v":16.4},{"t":2022.0184,"v":13.8},{"t":2022.0251,"v":18.4},{"t":2022.0318,"v":19},{"t":2022.0385,"v":19.7},{"t":2022.0430,"v":5.9},{"t":2022.0497,"v":-2},{"t":2022.0564,"v":-4.6},{"t":2022.0631,"v":-11.5},{"t":2022.0698,"v":-3.3},{"t":2022.0765,"v":-0.7},{"t":2022.0832,"v":6.6},{"t":2022.0899,"v":7.2},{"t":2022.0966,"v":7.9},{"t":2022.1033,"v":18.4},{"t":2022.1077,"v":-0.7},{"t":2022.1144,"v":-2},{"t":2022.1211,"v":-3.3},{"t":2022.1278,"v":-2},{"t":2022.1345,"v":-3.3},{"t":2022.1412,"v":-5.9},{"t":2022.1479,"v":-7.9},{"t":2022.1546,"v":-3.3},{"t":2022.1613,"v":-7.2},{"t":2022.1680,"v":-8.5},{"t":2022.1747,"v":-4.6},{"t":2022.1814,"v":-2.6},{"t":2022.1881,"v":-2},{"t":2022.1948,"v":-0.7},{"t":2022.2015,"v":9.8},{"t":2022.2082,"v":10.5},{"t":2022.2149,"v":11.8},{"t":2022.2216,"v":19.7},{"t":2022.2283,"v":24.9},{"t":2022.2350,"v":24.3},{"t":2022.2417,"v":23},{"t":2022.2484,"v":24.3},{"t":2022.2551,"v":20.3},{"t":2022.2618,"v":15.1},{"t":2022.2685,"v":13.8},{"t":2022.2752,"v":15.1},{"t":2022.2819,"v":15.1},{"t":2022.2886,"v":19},{"t":2022.2953,"v":12.5},{"t":2022.3020,"v":3.3},{"t":2022.3087,"v":-3.3},{"t":2022.3132,"v":-9.8},{"t":2022.3199,"v":-4.6},{"t":2022.3266,"v":-0.7},{"t":2022.3311,"v":5.2},{"t":2022.3378,"v":2},{"t":2022.3445,"v":-0.7},{"t":2022.3490,"v":-3.3},{"t":2022.3534,"v":0},{"t":2022.3601,"v":4.6},{"t":2022.3668,"v":8.5},{"t":2022.3713,"v":2}
]
},
"encoding": {
"x": {"field": "t", "type": "quantitative", "scale": {"domain": [2015, 2022.42], "nice": false, "zero": false}, "axis": {"values": [2015, 2016, 2017, 2018, 2019, 2020, 2021, 2022], "format": "d", "grid": false, "labelFlush": false, "labelOverlap": false, "labelPadding": 42}},
"y": {"field": "v", "type": "quantitative", "scale": {"domain": [-80, 60], "nice": false, "zero": false}, "axis": {"values": [-80, -60, -40, -20, 0, 20, 40, 60], "grid": true, "gridColor": "#000000", "gridOpacity": 0.15, "gridWidth": 2.5, "labelPadding": 45, "zindex": 1, "labelExpr": "'' + datum.value"}}
},
"layer": [
{"data": {"name": "diff"}, "mark": {"type": "area", "color": "#5b79ae", "stroke": "#5b79ae", "strokeWidth": 1}, "encoding": {"y2": {"datum": 0}}},
{"data": {"name": "ref"}, "mark": {"type": "line", "color": "#ED7D31", "strokeWidth": 10, "strokeCap": "round"}, "encoding": {}}
]
}
